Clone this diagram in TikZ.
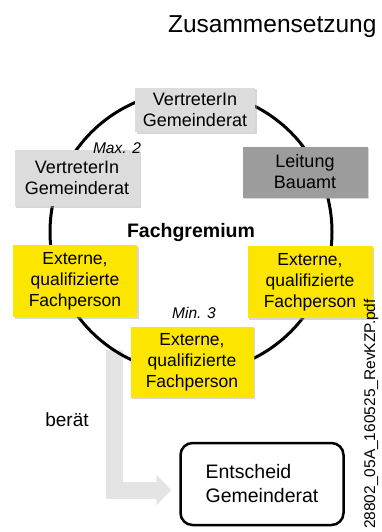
\documentclass[tikz,border=0pt]{standalone}
\usepackage{fontspec}
\setmainfont{Liberation Sans}
\usetikzlibrary{arrows.meta,shadows}

\definecolor{boxgray}{HTML}{DCDCDC}
\definecolor{leadgray}{HTML}{9C9C9C}
\definecolor{extyellow}{HTML}{FCE600}
\definecolor{arrowgray}{HTML}{E4E4E4}

\begin{document}
\begin{tikzpicture}[x=1pt,y=-1pt,node distance=100pt,
    member/.style={rectangle,inner sep=0pt,align=center,minimum width=124pt,minimum height=72pt,
        font=\fontsize{17.5}{21}\selectfont,
        drop shadow={shadow xshift=1.5pt,shadow yshift=-1.5pt,fill=black!35,opacity=0.45}},
    gray member/.style={member,fill=boxgray,font=\fontsize{18}{21}\selectfont},
    ext member/.style={member,fill=extyellow},
    note/.style={font=\itshape\fontsize{15.5}{18}\selectfont}]

    \useasboundingbox (0,0) rectangle (381,532);

    \node[anchor=base east,font=\fontsize{24.5}{28}\selectfont] (title) at (380,33) {Zusammensetzung};

    % Fachgremium ring
    \node[circle,inner sep=0pt,minimum size=282pt,font=\bfseries\fontsize{19.5}{22}\selectfont] (0) at (191,232) {Fachgremium};

    \node[draw,line width=2.5pt,rounded corners=12pt,minimum width=163pt,minimum height=82pt,
        align=left,font=\fontsize{19.5}{24}\selectfont] (7) at (262,484) {Entscheid\\Gemeinderat};
    \coordinate (tip) at ([shift={(-8pt,-6pt)}]7.west);

    \draw[-{Triangle[width=30pt,length=15pt]},line width=17pt,arrowgray] (0.-123.6) |- (tip);
    \draw[line width=3pt] (0.center) circle [radius=141pt];

    \node[gray member,minimum width=120pt,minimum height=44pt] (1) [above of=0,node distance=122pt,xshift=4pt] {VertreterIn\\Gemeinderat};
    \node[gray member,minimum width=125pt,minimum height=56pt] (2) [above of=0,node distance=54pt,xshift=-114pt] {VertreterIn\\Gemeinderat};
    \node[gray member,fill=leadgray,minimum width=125pt,minimum height=51pt] (3) [above of=0,node distance=60pt,xshift=114pt] {Leitung\\Bauamt};

    \node[ext member] (4) [below of=0,node distance=49pt,xshift=-116pt] {Externe,\\qualifizierte\\Fachperson};
    \node[ext member,minimum width=125pt] (5) [below of=0,node distance=50pt,xshift=119pt] {Externe,\\qualifizierte\\Fachperson};
    \node[ext member,minimum width=123pt,minimum height=71pt] (6) [below of=0,node distance=130pt,xshift=1pt] {Externe,\\qualifizierte\\Fachperson};

    \node[note] (max) [above of=0,node distance=84pt,xshift=-74pt] {Max. 2};
    \node[note] (min) [above of=6,node distance=49pt,xshift=2pt] {Min. 3};

    \node[font=\fontsize{19}{22}\selectfont] (beraet) at (67,420) {berät};

    \node[rotate=90,font=\fontsize{15.5}{18}\selectfont] (file) at (371,414) {28802\_05A\_160525\_RevKZP.pdf};
\end{tikzpicture}
\end{document}
